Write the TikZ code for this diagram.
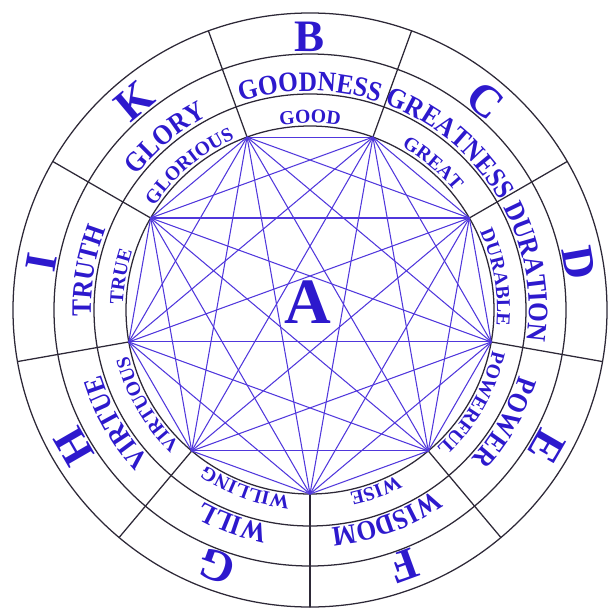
\documentclass[tikz,border=0pt]{standalone}
\usepackage{fontspec}
\setmainfont{Liberation Serif}
\newfontfamily\anillo{Liberation Serif}[FakeStretch=0.9]
\usetikzlibrary{decorations.text}
\definecolor{tinta}{RGB}{45,25,205}
\definecolor{estrella}{RGB}{80,55,220}
\definecolor{trazo}{RGB}{45,40,55}
\protected\def\medio{\anillo\bfseries\fontsize{20}{22}\selectfont}
\protected\def\chico{\bfseries\fontsize{14}{16}\selectfont}
\begin{document}
\begin{tikzpicture}[x=0.025cm, y=0.025cm, line cap=round, line join=round,
    circulo/.style={draw=trazo, line width=0.9pt},
    cuerda/.style={draw=estrella, line width=0.75pt},
    letra/.style={text=tinta, font=\bfseries\fontsize{32}{34}\selectfont, inner sep=0pt},
    palabra/.style={decorate, decoration={text along path, text align=center,
      text color=tinta, text/.expanded=#1}}]
  \useasboundingbox (-310,-301) rectangle (306,310);
  % los cuatro circulos
  \foreach \r in {184,216,256,297}
    \draw[circulo] (0,0) circle[radius=\r];
  % los vertices y las rayas de los sectores
  \foreach \i in {0,...,8} {
    \coordinate (v\i) at (110-40*\i:184);
    \coordinate (o\i) at (110-40*\i:297);
    \draw[circulo] (v\i) -- (o\i);
  }
  % todas las cuerdas entre los nueve vertices
  \foreach \i in {0,...,7} {
    \pgfmathtruncatemacro\k{\i+1}
    \foreach \j in {\k,...,8}
      \draw[cuerda] (v\i) -- (v\j);
  }
  % letras, dignidades y sus adjetivos
  \foreach \a/\l/\w/\p [count=\i] in {90/B/GOODNESS/GOOD, 50/C/GREATNESS/GREAT,
      10/D/DURATION/DURABLE, -30/E/POWER/POWERFUL, -70/F/WISDOM/WISE,
      -110/G/WILL/WILLING, -150/H/VIRTUE/VIRTUOUS, -190/I/TRUTH/TRUE,
      -230/K/GLORY/GLORIOUS} {
    \node[letra, rotate=\a-90] (l\i) at (\a:273) {\l};
    \path[palabra={|\medio|\w}] (\a+60:219) arc[start angle=\a+60, end angle=\a-60, radius=219];
    \path[palabra={|\chico|\p}] (\a+60:187) arc[start angle=\a+60, end angle=\a-60, radius=187];
  }
  % la A del centro
  \node[letra, font=\bfseries\fontsize{46}{48}\selectfont] (centro) at (-2,8) {A};
\end{tikzpicture}
\end{document}
